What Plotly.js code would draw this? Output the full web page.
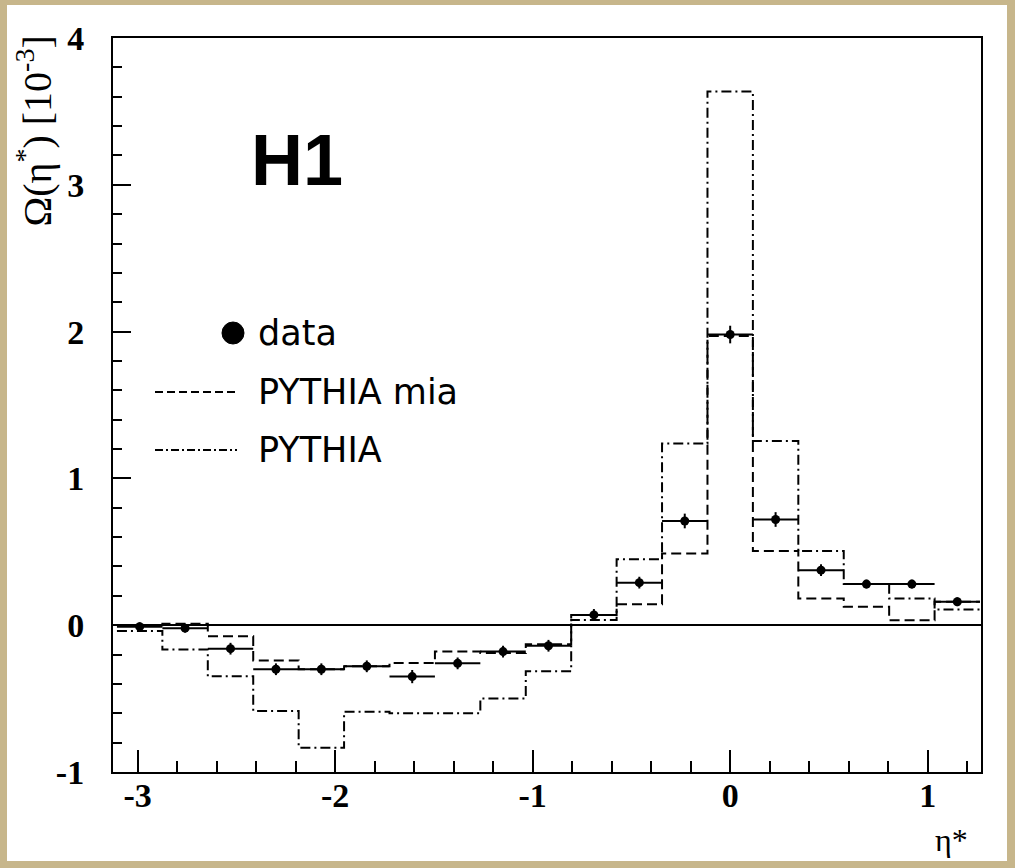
<!DOCTYPE html>
<html>
<head>
<meta charset="utf-8">
<script src="https://cdn.plot.ly/plotly-3.0.1.min.js"></script>
<style>
  html, body { margin: 0; padding: 0; background: #ffffff; }
  #chart { width: 1015px; height: 868px; }
</style>
</head>
<body>
<div id="chart"></div>
<script>
// ---- data ----
const etaCenters = [-2.99, -2.76, -2.53, -2.30, -2.07, -1.84, -1.61, -1.38, -1.15, -0.92,
                    -0.69, -0.46, -0.23, 0.00, 0.23, 0.46, 0.69, 0.92, 1.15];
const binHalfWidth = 0.115;
const dataValues = [-0.01, -0.02, -0.16, -0.30, -0.30, -0.28, -0.35, -0.26, -0.18, -0.14,
                    0.07, 0.29, 0.71, 1.98, 0.72, 0.375, 0.28, 0.28, 0.16];
const dataErrors = [0.03, 0.03, 0.04, 0.04, 0.04, 0.04, 0.045, 0.04, 0.04, 0.04,
                    0.04, 0.04, 0.05, 0.06, 0.05, 0.04, 0.03, 0.03, 0.03];
const pythiaMia = [0.00, 0.01, -0.075, -0.24, -0.30, -0.28, -0.257, -0.18, -0.19, -0.13,
                   0.07, 0.143, 0.489, 1.97, 0.506, 0.182, 0.125, 0.034, 0.16];
const pythia = [-0.04, -0.166, -0.348, -0.584, -0.834, -0.59, -0.60, -0.60, -0.50, -0.314,
                0.035, 0.45, 1.238, 3.635, 1.254, 0.506, 0.28, 0.182, 0.107];
const xTickVals = [-3, -2, -1, 0, 1];
const xTickText = ['-3', '-2', '-1', '0', '1'];
const yTickVals = [-1, 0, 1, 2, 3, 4];
const yTickText = ['-1', '0', '1', '2', '3', '4'];
const legendLabels = ['data', 'PYTHIA mia', 'PYTHIA'];

// ---- build step-histogram coordinates from the bins ----
function stepX(centers, hw) {
  const xs = centers.map(c => c - hw);
  xs.push(centers[centers.length - 1] + hw);
  return xs;
}
function stepY(vals) {
  const ys = vals.slice();
  ys.push(vals[vals.length - 1]);
  return ys;
}
const edges = stepX(etaCenters, binHalfWidth);

const traces = [
  {
    type: 'scatter', mode: 'lines', x: edges, y: stepY(pythiaMia),
    line: { shape: 'hv', color: '#000', width: 2, dash: '10px,5px' },
    hoverinfo: 'skip'
  },
  {
    type: 'scatter', mode: 'lines', x: edges, y: stepY(pythia),
    line: { shape: 'hv', color: '#000', width: 2, dash: '10px,4px,2px,4px' },
    hoverinfo: 'skip'
  },
  {
    type: 'scatter', mode: 'markers', x: etaCenters, y: dataValues,
    marker: { symbol: 'circle', size: 9, color: '#000' },
    error_x: { type: 'constant', value: binHalfWidth, width: 0, thickness: 2, color: '#000' },
    error_y: { type: 'data', array: dataErrors, width: 0, thickness: 2, color: '#000' },
    hoverinfo: 'skip'
  }
];

const serif = 'Liberation Serif, Times New Roman, serif';
const tickFont = { family: serif, size: 34, color: '#000', weight: 'bold' };
const legFont = { family: 'DejaVu Sans, sans-serif', size: 35, color: '#000' };

// paper coordinate helpers (plot area: x 113..981 px, y 38..772 px)
const L = 113, R = 981, T = 38, B = 772;
const px = p => (p - L) / (R - L);
const py = p => (B - p) / (B - T);

const layout = {
  width: 1015, height: 868,
  margin: { l: L, r: 1015 - R, t: T, b: 868 - B, pad: 0 },
  paper_bgcolor: '#c7b68b',
  plot_bgcolor: '#ffffff',
  showlegend: false,
  hovermode: false,
  xaxis: {
    range: [-3.125, 1.27],
    tickmode: 'array', tickvals: xTickVals, ticktext: xTickText,
    ticks: 'inside', ticklen: 22, tickwidth: 2, tickcolor: '#000',
    ticklabelstandoff: -8,
    showline: true, linecolor: '#000', linewidth: 2, mirror: true,
    showgrid: false, zeroline: false,
    tickfont: tickFont,
    minor: { tick0: 0, dtick: 0.2, ticks: 'inside', ticklen: 11, tickwidth: 2, tickcolor: '#000', showgrid: false }
  },
  yaxis: {
    range: [-1, 4],
    tickmode: 'array', tickvals: yTickVals, ticktext: yTickText,
    ticks: 'inside', ticklen: 18, tickwidth: 2, tickcolor: '#000',
    ticklabelstandoff: 20,
    showline: true, linecolor: '#000', linewidth: 2, mirror: true,
    showgrid: false,
    zeroline: true, zerolinecolor: '#000', zerolinewidth: 2,
    tickfont: tickFont,
    minor: { tick0: 0, dtick: 0.2, ticks: 'inside', ticklen: 9, tickwidth: 2, tickcolor: '#000', showgrid: false }
  },
  shapes: [
    { type: 'rect', xref: 'paper', yref: 'paper', layer: 'below',
      x0: px(7), x1: px(1007), y0: py(861), y1: py(5),
      fillcolor: '#ffffff', line: { width: 0 } },
    // legend samples
    { type: 'circle', xref: 'paper', yref: 'paper',
      x0: px(222), x1: px(244), y0: py(344), y1: py(322),
      fillcolor: '#000', line: { color: '#000', width: 1 } },
    { type: 'line', xref: 'paper', yref: 'paper',
      x0: px(155), x1: px(237), y0: py(392), y1: py(392),
      line: { color: '#000', width: 2, dash: '8px,4px' } },
    { type: 'line', xref: 'paper', yref: 'paper',
      x0: px(155), x1: px(237), y0: py(450), y1: py(450),
      line: { color: '#000', width: 2, dash: '8px,3px,2px,3px' } }
  ],
  annotations: [
    { xref: 'paper', yref: 'paper', x: px(256), y: py(333), xanchor: 'left', yanchor: 'middle',
      text: legendLabels[0], showarrow: false, font: legFont },
    { xref: 'paper', yref: 'paper', x: px(256), y: py(392), xanchor: 'left', yanchor: 'middle',
      text: legendLabels[1], showarrow: false, font: legFont },
    { xref: 'paper', yref: 'paper', x: px(256), y: py(450), xanchor: 'left', yanchor: 'middle',
      text: legendLabels[2], showarrow: false, font: legFont },
    { xref: 'paper', yref: 'paper', x: px(297), y: py(160), xanchor: 'center', yanchor: 'middle',
      text: 'H1', showarrow: false,
      font: { family: 'Liberation Sans, Arial, sans-serif', size: 72, color: '#000', weight: 'bold' } },
    { xref: 'paper', yref: 'paper', x: px(35), y: py(34), xanchor: 'center', yanchor: 'top',
      textangle: -90,
      text: 'Ω(η<sup>*</sup>) [10<sup>-3</sup>]', showarrow: false,
      font: { family: serif, size: 40, color: '#000' } },
    { xref: 'paper', yref: 'paper', x: px(970), y: py(840), xanchor: 'right', yanchor: 'middle',
      text: 'η*', showarrow: false,
      font: { family: serif, size: 32, color: '#000' } }
  ]
};

Plotly.newPlot('chart', traces, layout, { staticPlot: true, displayModeBar: false });
</script>
</body>
</html>
